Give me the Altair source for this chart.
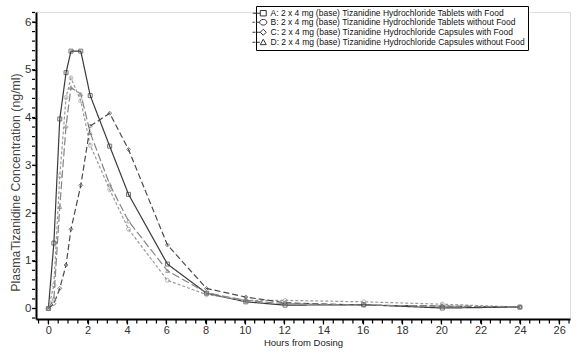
import altair as alt
import pandas as pd

series_names = [
    "A: 2 x 4 mg (base) Tizanidine Hydrochloride Tablets with Food",
    "B: 2 x 4 mg (base) Tizanidine Hydrochloride Tablets without Food",
    "C: 2 x 4 mg (base) Tizanidine Hydrochloride Capsules with Food",
    "D: 2 x 4 mg (base) Tizanidine Hydrochloride Capsules without Food",
]
times = [0, 0.28, 0.58, 0.9, 1.15, 1.65, 2.13, 3.12, 4.08, 6.06, 8.05, 10.05, 12.05, 16.05, 20.05, 24]
a_vals = [0, 1.37, 3.97, 4.94, 5.39, 5.39, 4.46, 3.40, 2.39, 0.93, 0.32, 0.14, 0.07, 0.08, 0.01, 0.03]
b_vals = [0, 0.49, 2.78, 4.42, 4.83, 4.35, 3.42, 2.49, 1.66, 0.59, 0.29, 0.17, 0.17, 0.14, 0.09, 0.03]
c_vals = [0, 0.10, 0.42, 0.91, 1.66, 2.58, 3.82, 4.09, 3.33, 1.33, 0.42, 0.24, 0.12, 0.07, 0.05, 0.03]
d_vals = [0, 0.21, 2.13, 3.82, 4.63, 4.49, 3.68, 2.60, 1.83, 0.79, 0.33, 0.17, 0.10, 0.07, 0.05, 0.03]

x_major = [0, 2, 4, 6, 8, 10, 12, 14, 16, 18, 20, 22, 24, 26]
x_minor = [i * 0.5 for i in range(-1, 54)]
y_major = [0, 1, 2, 3, 4, 5, 6]
y_minor = [round(i * 0.2, 2) for i in range(-1, 32)]

colors = ["#3a3a3a", "#9a9a9a", "#4a4a4a", "#858585"]
dashes = [[1, 0], [3, 2], [6, 3], [8, 3]]
shapes = ["square", "circle", "diamond", "triangle-up"]
legend_paths = [
    "M-3.5,0H-1M-1,-0.9H1V0.9H-1Z",
    "M-3.6,0H-2.9M-2.5,0H-1.3M-1.2,0A1.2,0.95 0 1,0 1.2,0A1.2,0.95 0 1,0 -1.2,0",
    "M-3.6,0H-2.6M-2.1,0H-1M0,-1L1,0L0,1L-1,0Z",
    "M-3.6,0H-2.6M-2.1,0H-1.1M0,-1L1,0.8H-1Z",
]

rows = []
for name, vals in zip(series_names, [a_vals, b_vals, c_vals, d_vals]):
    for t, v in zip(times, vals):
        rows.append({"series": name, "time": t, "conc": v})
df = pd.DataFrame(rows)
xminor_df = pd.DataFrame({"t": x_minor})
yminor_df = pd.DataFrame({"c": y_minor})

W, H = 534, 307
font = "Liberation Sans"
xscale = alt.Scale(domain=[-0.63, 26.55], nice=False, zero=False)
yscale = alt.Scale(domain=[-0.22, 6.21], nice=False, zero=False)

color_enc = alt.Color("series:N", scale=alt.Scale(domain=series_names, range=colors), legend=None)

lines = alt.Chart(df).mark_line(strokeWidth=1.2).encode(
    x=alt.X("time:Q", scale=xscale, axis=alt.Axis(
        values=x_major, orient="bottom", title="Hours from Dosing", grid=False,
        domainColor="black", domainWidth=2, tickColor="black", tickSize=5, tickWidth=1.2,
        labelFont=font, labelFontSize=11, labelColor="#333", labelPadding=0,
        titleFont=font, titleFontSize=9.5, titleFontWeight="normal", titleColor="#222", titlePadding=2)),
    y=alt.Y("conc:Q", scale=yscale, axis=alt.Axis(
        values=y_major, orient="left", title="PlasmaTizanidine Concentration (ng/ml)", grid=False,
        domainColor="black", domainWidth=2, tickColor="black", tickSize=4, tickWidth=1.2,
        labelFont=font, labelFontSize=11.5, labelColor="#333", labelPadding=1,
        titleFont=font, titleFontSize=12.3, titleFontWeight="normal", titleColor="#444",
        titleX=-21, titleY=170, titleBaseline="middle")),
    color=color_enc,
    strokeDash=alt.StrokeDash("series:N", scale=alt.Scale(domain=series_names, range=dashes), legend=None),
    detail="series:N",
)

points = alt.Chart(df).mark_point(filled=False, size=16, strokeWidth=1).encode(
    x=alt.X("time:Q", scale=xscale),
    y=alt.Y("conc:Q", scale=yscale),
    color=color_enc,
    shape=alt.Shape("series:N", scale=alt.Scale(domain=series_names, range=shapes), legend=None),
)

x_minor_ticks = alt.Chart(xminor_df).mark_rule(color="black", strokeWidth=1.2).encode(
    x=alt.X("t:Q", scale=xscale),
    y=alt.value(H + 1),
    y2=alt.value(H + 4.5),
)
y_minor_ticks = alt.Chart(yminor_df).mark_rule(color="black", strokeWidth=1.2).encode(
    y=alt.Y("c:Q", scale=yscale),
    x=alt.value(-4),
    x2=alt.value(-1),
)

legend_layer = alt.Chart(df).mark_point(opacity=0, color="#333").encode(
    x=alt.X("time:Q", scale=xscale),
    y=alt.Y("conc:Q", scale=yscale),
    shape=alt.Shape("series:N", scale=alt.Scale(domain=series_names, range=legend_paths),
                    legend=alt.Legend(
                        title=None, orient="none", legendX=220, legendY=-6,
                        symbolSize=36, symbolStrokeWidth=1, symbolOpacity=1,
                        symbolStrokeColor="#333", symbolFillColor="transparent",
                        labelFont=font, labelFontSize=8.5, labelColor="#111", labelLimit=400,
                        labelOffset=3, rowPadding=-1, padding=3,
                        strokeColor="black", fillColor="white")),
)

chart = alt.layer(lines, points, x_minor_ticks, y_minor_ticks, legend_layer).resolve_scale(
    shape="independent"
).properties(
    width=W, height=H, autosize=alt.AutoSizeParams(type="none"),
    padding={"left": 36, "top": 12, "right": 9, "bottom": 34},
).configure_view(stroke=None).configure(background="white")

chart.save("out.html", embed_options={"renderer": "svg", "actions": False})
